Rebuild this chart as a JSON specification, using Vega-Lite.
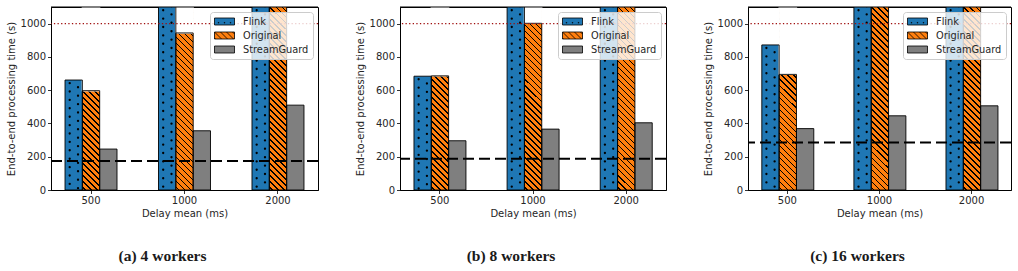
{
  "$schema": "https://vega.github.io/schema/vega-lite/v6.json",
  "padding": {"left": 5, "top": 6, "right": 3, "bottom": 4},
  "spacing": 34,
  "datasets": {
    "bars": [
      {"panel": "a", "delay": 500, "series": "Flink", "value": 661},
      {"panel": "a", "delay": 1000, "series": "Flink", "value": 1200},
      {"panel": "a", "delay": 2000, "series": "Flink", "value": 1200},
      {"panel": "a", "delay": 500, "series": "Original", "value": 597},
      {"panel": "a", "delay": 1000, "series": "Original", "value": 944},
      {"panel": "a", "delay": 2000, "series": "Original", "value": 1200},
      {"panel": "a", "delay": 500, "series": "StreamGuard", "value": 246},
      {"panel": "a", "delay": 1000, "series": "StreamGuard", "value": 356},
      {"panel": "a", "delay": 2000, "series": "StreamGuard", "value": 510},
      {"panel": "b", "delay": 500, "series": "Flink", "value": 684},
      {"panel": "b", "delay": 1000, "series": "Flink", "value": 1200},
      {"panel": "b", "delay": 2000, "series": "Flink", "value": 1200},
      {"panel": "b", "delay": 500, "series": "Original", "value": 686},
      {"panel": "b", "delay": 1000, "series": "Original", "value": 1002},
      {"panel": "b", "delay": 2000, "series": "Original", "value": 1200},
      {"panel": "b", "delay": 500, "series": "StreamGuard", "value": 296},
      {"panel": "b", "delay": 1000, "series": "StreamGuard", "value": 366},
      {"panel": "b", "delay": 2000, "series": "StreamGuard", "value": 404},
      {"panel": "c", "delay": 500, "series": "Flink", "value": 872},
      {"panel": "c", "delay": 1000, "series": "Flink", "value": 1200},
      {"panel": "c", "delay": 2000, "series": "Flink", "value": 1200},
      {"panel": "c", "delay": 500, "series": "Original", "value": 695},
      {"panel": "c", "delay": 1000, "series": "Original", "value": 1200},
      {"panel": "c", "delay": 2000, "series": "Original", "value": 1200},
      {"panel": "c", "delay": 500, "series": "StreamGuard", "value": 369},
      {"panel": "c", "delay": 1000, "series": "StreamGuard", "value": 446},
      {"panel": "c", "delay": 2000, "series": "StreamGuard", "value": 506}
    ],
    "base": [
      {"panel": "a", "baseline": 175},
      {"panel": "b", "baseline": 188},
      {"panel": "c", "baseline": 285}
    ]
  },
  "hconcat": [
    {
      "width": 267, "height": 183,
      "title": {"text": "(a) 4 workers"},
      "data": {"name": "bars"},
      "transform": [{"filter": "datum.panel === 'a'"}],
      "layer": [
        {
          "mark": {"type": "bar", "clip": true},
          "encoding": {
            "x": {"field": "delay", "type": "ordinal", "title": "Delay mean (ms)", "scale": {"paddingInner": 0.444, "paddingOuter": 0.15}},
            "xOffset": {"field": "series", "type": "nominal", "scale": {"domain": ["Flink", "Original", "StreamGuard"], "paddingInner": 0, "paddingOuter": 0}},
            "y": {"field": "value", "type": "quantitative", "title": "End-to-end processing time (s)", "scale": {"domain": [0, 1100], "nice": false}, "axis": {"values": [0, 200, 400, 600, 800, 1000], "format": "d"}},
            "color": {
              "field": "series", "type": "nominal",
              "scale": {"domain": ["Flink", "Original", "StreamGuard"], "range": ["#1f77b4", "#ff7f0e", "#7f7f7f"]},
              "legend": {
                "title": null, "orient": "top-right", "offset": 5,
                "symbolType": "M-1,-0.7H3V0.7H-1Z", "symbolSize": 100,
                "symbolStrokeColor": "black", "symbolStrokeWidth": 0.8,
                "labelFont": "DejaVu Sans", "labelFontSize": 9.8, "labelColor": "#262626", "labelOffset": 18,
                "rowPadding": 3, "padding": 4,
                "fillColor": "rgba(255,255,255,0.8)", "strokeColor": "#cccccc", "cornerRadius": 3,
                "encode": {"symbols": {"update": {
                  "stroke": {"value": "black"}, "strokeWidth": {"value": 0.8},
                  "shape": [
                    {"test": "datum.value === 'Flink'", "value": "M-1,-0.7H3V0.7H-1Z M-0.26,0.19h0.12v0.12h-0.12Z M0.94,0.19h0.12v0.12h-0.12Z M2.14,0.19h0.12v0.12h-0.12Z"},
                    {"test": "datum.value === 'Original'", "value": "M-1,-0.7H3V0.7H-1Z M-1,0.5L-0.8,0.7 M-1,-0.7L0.4,0.7 M0.2,-0.7L1.6,0.7 M1.4,-0.7L2.8,0.7 M2.6,-0.7L3,-0.3"},
                    {"value": "M-1,-0.7H3V0.7H-1Z"}
                  ]
                }}}
              }
            }
          }
        },
        {
          "transform": [{"filter": "datum.series === 'Original'"}],
          "mark": {"type": "bar", "clip": true, "fill": {
            "gradient": "linear", "x1": 0, "y1": 1, "x2": 0.1026, "y2": -0.0848,
            "stops": [
              {"offset": 0, "color": "#ff7f0e"},
              {"offset": 0.012, "color": "#ff7f0e"}, {"offset": 0.012, "color": "#000000"}, {"offset": 0.0185, "color": "#000000"}, {"offset": 0.0185, "color": "#ff7f0e"},
              {"offset": 0.042, "color": "#ff7f0e"}, {"offset": 0.042, "color": "#000000"}, {"offset": 0.0485, "color": "#000000"}, {"offset": 0.0485, "color": "#ff7f0e"},
              {"offset": 0.072, "color": "#ff7f0e"}, {"offset": 0.072, "color": "#000000"}, {"offset": 0.0785, "color": "#000000"}, {"offset": 0.0785, "color": "#ff7f0e"},
              {"offset": 0.102, "color": "#ff7f0e"}, {"offset": 0.102, "color": "#000000"}, {"offset": 0.1085, "color": "#000000"}, {"offset": 0.1085, "color": "#ff7f0e"},
              {"offset": 0.132, "color": "#ff7f0e"}, {"offset": 0.132, "color": "#000000"}, {"offset": 0.1385, "color": "#000000"}, {"offset": 0.1385, "color": "#ff7f0e"},
              {"offset": 0.162, "color": "#ff7f0e"}, {"offset": 0.162, "color": "#000000"}, {"offset": 0.1685, "color": "#000000"}, {"offset": 0.1685, "color": "#ff7f0e"},
              {"offset": 0.192, "color": "#ff7f0e"}, {"offset": 0.192, "color": "#000000"}, {"offset": 0.1985, "color": "#000000"}, {"offset": 0.1985, "color": "#ff7f0e"},
              {"offset": 0.222, "color": "#ff7f0e"}, {"offset": 0.222, "color": "#000000"}, {"offset": 0.2285, "color": "#000000"}, {"offset": 0.2285, "color": "#ff7f0e"},
              {"offset": 0.252, "color": "#ff7f0e"}, {"offset": 0.252, "color": "#000000"}, {"offset": 0.2585, "color": "#000000"}, {"offset": 0.2585, "color": "#ff7f0e"},
              {"offset": 0.282, "color": "#ff7f0e"}, {"offset": 0.282, "color": "#000000"}, {"offset": 0.2885, "color": "#000000"}, {"offset": 0.2885, "color": "#ff7f0e"},
              {"offset": 0.312, "color": "#ff7f0e"}, {"offset": 0.312, "color": "#000000"}, {"offset": 0.3185, "color": "#000000"}, {"offset": 0.3185, "color": "#ff7f0e"},
              {"offset": 0.342, "color": "#ff7f0e"}, {"offset": 0.342, "color": "#000000"}, {"offset": 0.3485, "color": "#000000"}, {"offset": 0.3485, "color": "#ff7f0e"},
              {"offset": 0.372, "color": "#ff7f0e"}, {"offset": 0.372, "color": "#000000"}, {"offset": 0.3785, "color": "#000000"}, {"offset": 0.3785, "color": "#ff7f0e"},
              {"offset": 0.402, "color": "#ff7f0e"}, {"offset": 0.402, "color": "#000000"}, {"offset": 0.4085, "color": "#000000"}, {"offset": 0.4085, "color": "#ff7f0e"},
              {"offset": 0.432, "color": "#ff7f0e"}, {"offset": 0.432, "color": "#000000"}, {"offset": 0.4385, "color": "#000000"}, {"offset": 0.4385, "color": "#ff7f0e"},
              {"offset": 0.462, "color": "#ff7f0e"}, {"offset": 0.462, "color": "#000000"}, {"offset": 0.4685, "color": "#000000"}, {"offset": 0.4685, "color": "#ff7f0e"},
              {"offset": 0.492, "color": "#ff7f0e"}, {"offset": 0.492, "color": "#000000"}, {"offset": 0.4985, "color": "#000000"}, {"offset": 0.4985, "color": "#ff7f0e"},
              {"offset": 0.522, "color": "#ff7f0e"}, {"offset": 0.522, "color": "#000000"}, {"offset": 0.5285, "color": "#000000"}, {"offset": 0.5285, "color": "#ff7f0e"},
              {"offset": 0.552, "color": "#ff7f0e"}, {"offset": 0.552, "color": "#000000"}, {"offset": 0.5585, "color": "#000000"}, {"offset": 0.5585, "color": "#ff7f0e"},
              {"offset": 0.582, "color": "#ff7f0e"}, {"offset": 0.582, "color": "#000000"}, {"offset": 0.5885, "color": "#000000"}, {"offset": 0.5885, "color": "#ff7f0e"},
              {"offset": 0.612, "color": "#ff7f0e"}, {"offset": 0.612, "color": "#000000"}, {"offset": 0.6185, "color": "#000000"}, {"offset": 0.6185, "color": "#ff7f0e"},
              {"offset": 0.642, "color": "#ff7f0e"}, {"offset": 0.642, "color": "#000000"}, {"offset": 0.6485, "color": "#000000"}, {"offset": 0.6485, "color": "#ff7f0e"},
              {"offset": 0.672, "color": "#ff7f0e"}, {"offset": 0.672, "color": "#000000"}, {"offset": 0.6785, "color": "#000000"}, {"offset": 0.6785, "color": "#ff7f0e"},
              {"offset": 0.702, "color": "#ff7f0e"}, {"offset": 0.702, "color": "#000000"}, {"offset": 0.7085, "color": "#000000"}, {"offset": 0.7085, "color": "#ff7f0e"},
              {"offset": 0.732, "color": "#ff7f0e"}, {"offset": 0.732, "color": "#000000"}, {"offset": 0.7385, "color": "#000000"}, {"offset": 0.7385, "color": "#ff7f0e"},
              {"offset": 0.762, "color": "#ff7f0e"}, {"offset": 0.762, "color": "#000000"}, {"offset": 0.7685, "color": "#000000"}, {"offset": 0.7685, "color": "#ff7f0e"},
              {"offset": 0.792, "color": "#ff7f0e"}, {"offset": 0.792, "color": "#000000"}, {"offset": 0.7985, "color": "#000000"}, {"offset": 0.7985, "color": "#ff7f0e"},
              {"offset": 0.822, "color": "#ff7f0e"}, {"offset": 0.822, "color": "#000000"}, {"offset": 0.8285, "color": "#000000"}, {"offset": 0.8285, "color": "#ff7f0e"},
              {"offset": 0.852, "color": "#ff7f0e"}, {"offset": 0.852, "color": "#000000"}, {"offset": 0.8585, "color": "#000000"}, {"offset": 0.8585, "color": "#ff7f0e"},
              {"offset": 0.882, "color": "#ff7f0e"}, {"offset": 0.882, "color": "#000000"}, {"offset": 0.8885, "color": "#000000"}, {"offset": 0.8885, "color": "#ff7f0e"},
              {"offset": 0.912, "color": "#ff7f0e"}, {"offset": 0.912, "color": "#000000"}, {"offset": 0.9185, "color": "#000000"}, {"offset": 0.9185, "color": "#ff7f0e"},
              {"offset": 0.942, "color": "#ff7f0e"}, {"offset": 0.942, "color": "#000000"}, {"offset": 0.9485, "color": "#000000"}, {"offset": 0.9485, "color": "#ff7f0e"},
              {"offset": 0.972, "color": "#ff7f0e"}, {"offset": 0.972, "color": "#000000"}, {"offset": 0.9785, "color": "#000000"}, {"offset": 0.9785, "color": "#ff7f0e"},
              {"offset": 1, "color": "#ff7f0e"}
            ]
          }},
          "encoding": {
            "x": {"field": "delay", "type": "ordinal", "title": "Delay mean (ms)"},
            "xOffset": {"field": "series", "type": "nominal", "scale": {"domain": ["Flink", "Original", "StreamGuard"]}},
            "y": {"datum": 1100, "type": "quantitative", "title": "End-to-end processing time (s)", "axis": {"values": [0, 200, 400, 600, 800, 1000], "format": "d"}}
          }
        },
        {
          "transform": [{"filter": "datum.series === 'Original'"}],
          "mark": {"type": "bar", "fill": "white", "stroke": "white", "strokeWidth": 1.4, "clip": true},
          "encoding": {
            "x": {"field": "delay", "type": "ordinal", "title": "Delay mean (ms)"},
            "xOffset": {"field": "series", "type": "nominal", "scale": {"domain": ["Flink", "Original", "StreamGuard"]}},
            "y": {"field": "value", "type": "quantitative", "title": "End-to-end processing time (s)", "axis": {"values": [0, 200, 400, 600, 800, 1000], "format": "d"}},
            "y2": {"datum": 1120}
          }
        },
        {
          "transform": [{"filter": "datum.series === 'Flink'"}],
          "mark": {"type": "rule", "color": "black", "strokeWidth": 2.3, "strokeCap": "round", "strokeDash": [0.1, 8.3], "strokeDashOffset": 5.4, "clip": true},
          "encoding": {
            "x": {"field": "delay", "type": "ordinal", "title": "Delay mean (ms)", "bandPosition": 0.09},
            "y": {"field": "value", "type": "quantitative", "title": "End-to-end processing time (s)", "axis": {"values": [0, 200, 400, 600, 800, 1000], "format": "d"}},
            "y2": {"datum": 0}
          }
        },
        {
          "transform": [{"filter": "datum.series === 'Flink'"}],
          "mark": {"type": "rule", "color": "black", "strokeWidth": 2.3, "strokeCap": "round", "strokeDash": [0.1, 8.3], "strokeDashOffset": 1.2, "clip": true},
          "encoding": {
            "x": {"field": "delay", "type": "ordinal", "title": "Delay mean (ms)", "bandPosition": 0.25},
            "y": {"field": "value", "type": "quantitative", "title": "End-to-end processing time (s)", "axis": {"values": [0, 200, 400, 600, 800, 1000], "format": "d"}},
            "y2": {"datum": 0}
          }
        },
        {
          "mark": {"type": "bar", "filled": false, "color": "black", "strokeWidth": 0.9, "clip": true},
          "encoding": {
            "x": {"field": "delay", "type": "ordinal", "title": "Delay mean (ms)"},
            "xOffset": {"field": "series", "type": "nominal", "scale": {"domain": ["Flink", "Original", "StreamGuard"]}},
            "y": {"field": "value", "type": "quantitative", "title": "End-to-end processing time (s)", "axis": {"values": [0, 200, 400, 600, 800, 1000], "format": "d"}}
          }
        },
        {
          "data": {"name": "base"},
          "transform": [{"filter": "datum.panel === 'a'"}],
          "mark": {"type": "rule", "color": "#a01010", "strokeDash": [1.3, 2.3], "strokeWidth": 1.1},
          "encoding": {"y": {"datum": 1000, "type": "quantitative", "title": "End-to-end processing time (s)", "axis": {"values": [0, 200, 400, 600, 800, 1000], "format": "d"}}}
        },
        {
          "data": {"name": "base"},
          "transform": [{"filter": "datum.panel === 'a'"}],
          "mark": {"type": "rule", "color": "black", "strokeDash": [11, 5], "strokeWidth": 2},
          "encoding": {"y": {"field": "baseline", "type": "quantitative", "title": "End-to-end processing time (s)", "axis": {"values": [0, 200, 400, 600, 800, 1000], "format": "d"}}}
        },
        {
          "data": {"name": "base"},
          "transform": [{"filter": "datum.panel === 'a'"}],
          "mark": {"type": "rule", "color": "black", "strokeWidth": 1},
          "encoding": {"y": {"datum": 1100, "type": "quantitative", "title": "End-to-end processing time (s)", "axis": {"values": [0, 200, 400, 600, 800, 1000], "format": "d"}}}
        }
      ]
    },
    {
      "width": 266, "height": 183,
      "title": {"text": "(b) 8 workers"},
      "data": {"name": "bars"},
      "transform": [{"filter": "datum.panel === 'b'"}],
      "layer": [
        {
          "mark": {"type": "bar", "clip": true},
          "encoding": {
            "x": {"field": "delay", "type": "ordinal", "title": "Delay mean (ms)", "scale": {"paddingInner": 0.444, "paddingOuter": 0.15}},
            "xOffset": {"field": "series", "type": "nominal", "scale": {"domain": ["Flink", "Original", "StreamGuard"], "paddingInner": 0, "paddingOuter": 0}},
            "y": {"field": "value", "type": "quantitative", "title": "End-to-end processing time (s)", "scale": {"domain": [0, 1100], "nice": false}, "axis": {"values": [0, 200, 400, 600, 800, 1000], "format": "d"}},
            "color": {
              "field": "series", "type": "nominal",
              "scale": {"domain": ["Flink", "Original", "StreamGuard"], "range": ["#1f77b4", "#ff7f0e", "#7f7f7f"]},
              "legend": {
                "title": null, "orient": "top-right", "offset": 5,
                "symbolType": "M-1,-0.7H3V0.7H-1Z", "symbolSize": 100,
                "symbolStrokeColor": "black", "symbolStrokeWidth": 0.8,
                "labelFont": "DejaVu Sans", "labelFontSize": 9.8, "labelColor": "#262626", "labelOffset": 18,
                "rowPadding": 3, "padding": 4,
                "fillColor": "rgba(255,255,255,0.8)", "strokeColor": "#cccccc", "cornerRadius": 3,
                "encode": {"symbols": {"update": {
                  "stroke": {"value": "black"}, "strokeWidth": {"value": 0.8},
                  "shape": [
                    {"test": "datum.value === 'Flink'", "value": "M-1,-0.7H3V0.7H-1Z M-0.26,0.19h0.12v0.12h-0.12Z M0.94,0.19h0.12v0.12h-0.12Z M2.14,0.19h0.12v0.12h-0.12Z"},
                    {"test": "datum.value === 'Original'", "value": "M-1,-0.7H3V0.7H-1Z M-1,0.5L-0.8,0.7 M-1,-0.7L0.4,0.7 M0.2,-0.7L1.6,0.7 M1.4,-0.7L2.8,0.7 M2.6,-0.7L3,-0.3"},
                    {"value": "M-1,-0.7H3V0.7H-1Z"}
                  ]
                }}}
              }
            }
          }
        },
        {
          "transform": [{"filter": "datum.series === 'Original'"}],
          "mark": {"type": "bar", "clip": true, "fill": {
            "gradient": "linear", "x1": 0, "y1": 1, "x2": 0.1026, "y2": -0.0848,
            "stops": [
              {"offset": 0, "color": "#ff7f0e"},
              {"offset": 0.012, "color": "#ff7f0e"}, {"offset": 0.012, "color": "#000000"}, {"offset": 0.0185, "color": "#000000"}, {"offset": 0.0185, "color": "#ff7f0e"},
              {"offset": 0.042, "color": "#ff7f0e"}, {"offset": 0.042, "color": "#000000"}, {"offset": 0.0485, "color": "#000000"}, {"offset": 0.0485, "color": "#ff7f0e"},
              {"offset": 0.072, "color": "#ff7f0e"}, {"offset": 0.072, "color": "#000000"}, {"offset": 0.0785, "color": "#000000"}, {"offset": 0.0785, "color": "#ff7f0e"},
              {"offset": 0.102, "color": "#ff7f0e"}, {"offset": 0.102, "color": "#000000"}, {"offset": 0.1085, "color": "#000000"}, {"offset": 0.1085, "color": "#ff7f0e"},
              {"offset": 0.132, "color": "#ff7f0e"}, {"offset": 0.132, "color": "#000000"}, {"offset": 0.1385, "color": "#000000"}, {"offset": 0.1385, "color": "#ff7f0e"},
              {"offset": 0.162, "color": "#ff7f0e"}, {"offset": 0.162, "color": "#000000"}, {"offset": 0.1685, "color": "#000000"}, {"offset": 0.1685, "color": "#ff7f0e"},
              {"offset": 0.192, "color": "#ff7f0e"}, {"offset": 0.192, "color": "#000000"}, {"offset": 0.1985, "color": "#000000"}, {"offset": 0.1985, "color": "#ff7f0e"},
              {"offset": 0.222, "color": "#ff7f0e"}, {"offset": 0.222, "color": "#000000"}, {"offset": 0.2285, "color": "#000000"}, {"offset": 0.2285, "color": "#ff7f0e"},
              {"offset": 0.252, "color": "#ff7f0e"}, {"offset": 0.252, "color": "#000000"}, {"offset": 0.2585, "color": "#000000"}, {"offset": 0.2585, "color": "#ff7f0e"},
              {"offset": 0.282, "color": "#ff7f0e"}, {"offset": 0.282, "color": "#000000"}, {"offset": 0.2885, "color": "#000000"}, {"offset": 0.2885, "color": "#ff7f0e"},
              {"offset": 0.312, "color": "#ff7f0e"}, {"offset": 0.312, "color": "#000000"}, {"offset": 0.3185, "color": "#000000"}, {"offset": 0.3185, "color": "#ff7f0e"},
              {"offset": 0.342, "color": "#ff7f0e"}, {"offset": 0.342, "color": "#000000"}, {"offset": 0.3485, "color": "#000000"}, {"offset": 0.3485, "color": "#ff7f0e"},
              {"offset": 0.372, "color": "#ff7f0e"}, {"offset": 0.372, "color": "#000000"}, {"offset": 0.3785, "color": "#000000"}, {"offset": 0.3785, "color": "#ff7f0e"},
              {"offset": 0.402, "color": "#ff7f0e"}, {"offset": 0.402, "color": "#000000"}, {"offset": 0.4085, "color": "#000000"}, {"offset": 0.4085, "color": "#ff7f0e"},
              {"offset": 0.432, "color": "#ff7f0e"}, {"offset": 0.432, "color": "#000000"}, {"offset": 0.4385, "color": "#000000"}, {"offset": 0.4385, "color": "#ff7f0e"},
              {"offset": 0.462, "color": "#ff7f0e"}, {"offset": 0.462, "color": "#000000"}, {"offset": 0.4685, "color": "#000000"}, {"offset": 0.4685, "color": "#ff7f0e"},
              {"offset": 0.492, "color": "#ff7f0e"}, {"offset": 0.492, "color": "#000000"}, {"offset": 0.4985, "color": "#000000"}, {"offset": 0.4985, "color": "#ff7f0e"},
              {"offset": 0.522, "color": "#ff7f0e"}, {"offset": 0.522, "color": "#000000"}, {"offset": 0.5285, "color": "#000000"}, {"offset": 0.5285, "color": "#ff7f0e"},
              {"offset": 0.552, "color": "#ff7f0e"}, {"offset": 0.552, "color": "#000000"}, {"offset": 0.5585, "color": "#000000"}, {"offset": 0.5585, "color": "#ff7f0e"},
              {"offset": 0.582, "color": "#ff7f0e"}, {"offset": 0.582, "color": "#000000"}, {"offset": 0.5885, "color": "#000000"}, {"offset": 0.5885, "color": "#ff7f0e"},
              {"offset": 0.612, "color": "#ff7f0e"}, {"offset": 0.612, "color": "#000000"}, {"offset": 0.6185, "color": "#000000"}, {"offset": 0.6185, "color": "#ff7f0e"},
              {"offset": 0.642, "color": "#ff7f0e"}, {"offset": 0.642, "color": "#000000"}, {"offset": 0.6485, "color": "#000000"}, {"offset": 0.6485, "color": "#ff7f0e"},
              {"offset": 0.672, "color": "#ff7f0e"}, {"offset": 0.672, "color": "#000000"}, {"offset": 0.6785, "color": "#000000"}, {"offset": 0.6785, "color": "#ff7f0e"},
              {"offset": 0.702, "color": "#ff7f0e"}, {"offset": 0.702, "color": "#000000"}, {"offset": 0.7085, "color": "#000000"}, {"offset": 0.7085, "color": "#ff7f0e"},
              {"offset": 0.732, "color": "#ff7f0e"}, {"offset": 0.732, "color": "#000000"}, {"offset": 0.7385, "color": "#000000"}, {"offset": 0.7385, "color": "#ff7f0e"},
              {"offset": 0.762, "color": "#ff7f0e"}, {"offset": 0.762, "color": "#000000"}, {"offset": 0.7685, "color": "#000000"}, {"offset": 0.7685, "color": "#ff7f0e"},
              {"offset": 0.792, "color": "#ff7f0e"}, {"offset": 0.792, "color": "#000000"}, {"offset": 0.7985, "color": "#000000"}, {"offset": 0.7985, "color": "#ff7f0e"},
              {"offset": 0.822, "color": "#ff7f0e"}, {"offset": 0.822, "color": "#000000"}, {"offset": 0.8285, "color": "#000000"}, {"offset": 0.8285, "color": "#ff7f0e"},
              {"offset": 0.852, "color": "#ff7f0e"}, {"offset": 0.852, "color": "#000000"}, {"offset": 0.8585, "color": "#000000"}, {"offset": 0.8585, "color": "#ff7f0e"},
              {"offset": 0.882, "color": "#ff7f0e"}, {"offset": 0.882, "color": "#000000"}, {"offset": 0.8885, "color": "#000000"}, {"offset": 0.8885, "color": "#ff7f0e"},
              {"offset": 0.912, "color": "#ff7f0e"}, {"offset": 0.912, "color": "#000000"}, {"offset": 0.9185, "color": "#000000"}, {"offset": 0.9185, "color": "#ff7f0e"},
              {"offset": 0.942, "color": "#ff7f0e"}, {"offset": 0.942, "color": "#000000"}, {"offset": 0.9485, "color": "#000000"}, {"offset": 0.9485, "color": "#ff7f0e"},
              {"offset": 0.972, "color": "#ff7f0e"}, {"offset": 0.972, "color": "#000000"}, {"offset": 0.9785, "color": "#000000"}, {"offset": 0.9785, "color": "#ff7f0e"},
              {"offset": 1, "color": "#ff7f0e"}
            ]
          }},
          "encoding": {
            "x": {"field": "delay", "type": "ordinal", "title": "Delay mean (ms)"},
            "xOffset": {"field": "series", "type": "nominal", "scale": {"domain": ["Flink", "Original", "StreamGuard"]}},
            "y": {"datum": 1100, "type": "quantitative", "title": "End-to-end processing time (s)", "axis": {"values": [0, 200, 400, 600, 800, 1000], "format": "d"}}
          }
        },
        {
          "transform": [{"filter": "datum.series === 'Original'"}],
          "mark": {"type": "bar", "fill": "white", "stroke": "white", "strokeWidth": 1.4, "clip": true},
          "encoding": {
            "x": {"field": "delay", "type": "ordinal", "title": "Delay mean (ms)"},
            "xOffset": {"field": "series", "type": "nominal", "scale": {"domain": ["Flink", "Original", "StreamGuard"]}},
            "y": {"field": "value", "type": "quantitative", "title": "End-to-end processing time (s)", "axis": {"values": [0, 200, 400, 600, 800, 1000], "format": "d"}},
            "y2": {"datum": 1120}
          }
        },
        {
          "transform": [{"filter": "datum.series === 'Flink'"}],
          "mark": {"type": "rule", "color": "black", "strokeWidth": 2.3, "strokeCap": "round", "strokeDash": [0.1, 8.3], "strokeDashOffset": 5.4, "clip": true},
          "encoding": {
            "x": {"field": "delay", "type": "ordinal", "title": "Delay mean (ms)", "bandPosition": 0.09},
            "y": {"field": "value", "type": "quantitative", "title": "End-to-end processing time (s)", "axis": {"values": [0, 200, 400, 600, 800, 1000], "format": "d"}},
            "y2": {"datum": 0}
          }
        },
        {
          "transform": [{"filter": "datum.series === 'Flink'"}],
          "mark": {"type": "rule", "color": "black", "strokeWidth": 2.3, "strokeCap": "round", "strokeDash": [0.1, 8.3], "strokeDashOffset": 1.2, "clip": true},
          "encoding": {
            "x": {"field": "delay", "type": "ordinal", "title": "Delay mean (ms)", "bandPosition": 0.25},
            "y": {"field": "value", "type": "quantitative", "title": "End-to-end processing time (s)", "axis": {"values": [0, 200, 400, 600, 800, 1000], "format": "d"}},
            "y2": {"datum": 0}
          }
        },
        {
          "mark": {"type": "bar", "filled": false, "color": "black", "strokeWidth": 0.9, "clip": true},
          "encoding": {
            "x": {"field": "delay", "type": "ordinal", "title": "Delay mean (ms)"},
            "xOffset": {"field": "series", "type": "nominal", "scale": {"domain": ["Flink", "Original", "StreamGuard"]}},
            "y": {"field": "value", "type": "quantitative", "title": "End-to-end processing time (s)", "axis": {"values": [0, 200, 400, 600, 800, 1000], "format": "d"}}
          }
        },
        {
          "data": {"name": "base"},
          "transform": [{"filter": "datum.panel === 'b'"}],
          "mark": {"type": "rule", "color": "#a01010", "strokeDash": [1.3, 2.3], "strokeWidth": 1.1},
          "encoding": {"y": {"datum": 1000, "type": "quantitative", "title": "End-to-end processing time (s)", "axis": {"values": [0, 200, 400, 600, 800, 1000], "format": "d"}}}
        },
        {
          "data": {"name": "base"},
          "transform": [{"filter": "datum.panel === 'b'"}],
          "mark": {"type": "rule", "color": "black", "strokeDash": [11, 5], "strokeWidth": 2},
          "encoding": {"y": {"field": "baseline", "type": "quantitative", "title": "End-to-end processing time (s)", "axis": {"values": [0, 200, 400, 600, 800, 1000], "format": "d"}}}
        },
        {
          "data": {"name": "base"},
          "transform": [{"filter": "datum.panel === 'b'"}],
          "mark": {"type": "rule", "color": "black", "strokeWidth": 1},
          "encoding": {"y": {"datum": 1100, "type": "quantitative", "title": "End-to-end processing time (s)", "axis": {"values": [0, 200, 400, 600, 800, 1000], "format": "d"}}}
        }
      ]
    },
    {
      "width": 263, "height": 183,
      "title": {"text": "(c) 16 workers"},
      "data": {"name": "bars"},
      "transform": [{"filter": "datum.panel === 'c'"}],
      "layer": [
        {
          "mark": {"type": "bar", "clip": true},
          "encoding": {
            "x": {"field": "delay", "type": "ordinal", "title": "Delay mean (ms)", "scale": {"paddingInner": 0.444, "paddingOuter": 0.15}},
            "xOffset": {"field": "series", "type": "nominal", "scale": {"domain": ["Flink", "Original", "StreamGuard"], "paddingInner": 0, "paddingOuter": 0}},
            "y": {"field": "value", "type": "quantitative", "title": "End-to-end processing time (s)", "scale": {"domain": [0, 1100], "nice": false}, "axis": {"values": [0, 200, 400, 600, 800, 1000], "format": "d"}},
            "color": {
              "field": "series", "type": "nominal",
              "scale": {"domain": ["Flink", "Original", "StreamGuard"], "range": ["#1f77b4", "#ff7f0e", "#7f7f7f"]},
              "legend": {
                "title": null, "orient": "top-right", "offset": 5,
                "symbolType": "M-1,-0.7H3V0.7H-1Z", "symbolSize": 100,
                "symbolStrokeColor": "black", "symbolStrokeWidth": 0.8,
                "labelFont": "DejaVu Sans", "labelFontSize": 9.8, "labelColor": "#262626", "labelOffset": 18,
                "rowPadding": 3, "padding": 4,
                "fillColor": "rgba(255,255,255,0.8)", "strokeColor": "#cccccc", "cornerRadius": 3,
                "encode": {"symbols": {"update": {
                  "stroke": {"value": "black"}, "strokeWidth": {"value": 0.8},
                  "shape": [
                    {"test": "datum.value === 'Flink'", "value": "M-1,-0.7H3V0.7H-1Z M-0.26,0.19h0.12v0.12h-0.12Z M0.94,0.19h0.12v0.12h-0.12Z M2.14,0.19h0.12v0.12h-0.12Z"},
                    {"test": "datum.value === 'Original'", "value": "M-1,-0.7H3V0.7H-1Z M-1,0.5L-0.8,0.7 M-1,-0.7L0.4,0.7 M0.2,-0.7L1.6,0.7 M1.4,-0.7L2.8,0.7 M2.6,-0.7L3,-0.3"},
                    {"value": "M-1,-0.7H3V0.7H-1Z"}
                  ]
                }}}
              }
            }
          }
        },
        {
          "transform": [{"filter": "datum.series === 'Original'"}],
          "mark": {"type": "bar", "clip": true, "fill": {
            "gradient": "linear", "x1": 0, "y1": 1, "x2": 0.1026, "y2": -0.0848,
            "stops": [
              {"offset": 0, "color": "#ff7f0e"},
              {"offset": 0.012, "color": "#ff7f0e"}, {"offset": 0.012, "color": "#000000"}, {"offset": 0.0185, "color": "#000000"}, {"offset": 0.0185, "color": "#ff7f0e"},
              {"offset": 0.042, "color": "#ff7f0e"}, {"offset": 0.042, "color": "#000000"}, {"offset": 0.0485, "color": "#000000"}, {"offset": 0.0485, "color": "#ff7f0e"},
              {"offset": 0.072, "color": "#ff7f0e"}, {"offset": 0.072, "color": "#000000"}, {"offset": 0.0785, "color": "#000000"}, {"offset": 0.0785, "color": "#ff7f0e"},
              {"offset": 0.102, "color": "#ff7f0e"}, {"offset": 0.102, "color": "#000000"}, {"offset": 0.1085, "color": "#000000"}, {"offset": 0.1085, "color": "#ff7f0e"},
              {"offset": 0.132, "color": "#ff7f0e"}, {"offset": 0.132, "color": "#000000"}, {"offset": 0.1385, "color": "#000000"}, {"offset": 0.1385, "color": "#ff7f0e"},
              {"offset": 0.162, "color": "#ff7f0e"}, {"offset": 0.162, "color": "#000000"}, {"offset": 0.1685, "color": "#000000"}, {"offset": 0.1685, "color": "#ff7f0e"},
              {"offset": 0.192, "color": "#ff7f0e"}, {"offset": 0.192, "color": "#000000"}, {"offset": 0.1985, "color": "#000000"}, {"offset": 0.1985, "color": "#ff7f0e"},
              {"offset": 0.222, "color": "#ff7f0e"}, {"offset": 0.222, "color": "#000000"}, {"offset": 0.2285, "color": "#000000"}, {"offset": 0.2285, "color": "#ff7f0e"},
              {"offset": 0.252, "color": "#ff7f0e"}, {"offset": 0.252, "color": "#000000"}, {"offset": 0.2585, "color": "#000000"}, {"offset": 0.2585, "color": "#ff7f0e"},
              {"offset": 0.282, "color": "#ff7f0e"}, {"offset": 0.282, "color": "#000000"}, {"offset": 0.2885, "color": "#000000"}, {"offset": 0.2885, "color": "#ff7f0e"},
              {"offset": 0.312, "color": "#ff7f0e"}, {"offset": 0.312, "color": "#000000"}, {"offset": 0.3185, "color": "#000000"}, {"offset": 0.3185, "color": "#ff7f0e"},
              {"offset": 0.342, "color": "#ff7f0e"}, {"offset": 0.342, "color": "#000000"}, {"offset": 0.3485, "color": "#000000"}, {"offset": 0.3485, "color": "#ff7f0e"},
              {"offset": 0.372, "color": "#ff7f0e"}, {"offset": 0.372, "color": "#000000"}, {"offset": 0.3785, "color": "#000000"}, {"offset": 0.3785, "color": "#ff7f0e"},
              {"offset": 0.402, "color": "#ff7f0e"}, {"offset": 0.402, "color": "#000000"}, {"offset": 0.4085, "color": "#000000"}, {"offset": 0.4085, "color": "#ff7f0e"},
              {"offset": 0.432, "color": "#ff7f0e"}, {"offset": 0.432, "color": "#000000"}, {"offset": 0.4385, "color": "#000000"}, {"offset": 0.4385, "color": "#ff7f0e"},
              {"offset": 0.462, "color": "#ff7f0e"}, {"offset": 0.462, "color": "#000000"}, {"offset": 0.4685, "color": "#000000"}, {"offset": 0.4685, "color": "#ff7f0e"},
              {"offset": 0.492, "color": "#ff7f0e"}, {"offset": 0.492, "color": "#000000"}, {"offset": 0.4985, "color": "#000000"}, {"offset": 0.4985, "color": "#ff7f0e"},
              {"offset": 0.522, "color": "#ff7f0e"}, {"offset": 0.522, "color": "#000000"}, {"offset": 0.5285, "color": "#000000"}, {"offset": 0.5285, "color": "#ff7f0e"},
              {"offset": 0.552, "color": "#ff7f0e"}, {"offset": 0.552, "color": "#000000"}, {"offset": 0.5585, "color": "#000000"}, {"offset": 0.5585, "color": "#ff7f0e"},
              {"offset": 0.582, "color": "#ff7f0e"}, {"offset": 0.582, "color": "#000000"}, {"offset": 0.5885, "color": "#000000"}, {"offset": 0.5885, "color": "#ff7f0e"},
              {"offset": 0.612, "color": "#ff7f0e"}, {"offset": 0.612, "color": "#000000"}, {"offset": 0.6185, "color": "#000000"}, {"offset": 0.6185, "color": "#ff7f0e"},
              {"offset": 0.642, "color": "#ff7f0e"}, {"offset": 0.642, "color": "#000000"}, {"offset": 0.6485, "color": "#000000"}, {"offset": 0.6485, "color": "#ff7f0e"},
              {"offset": 0.672, "color": "#ff7f0e"}, {"offset": 0.672, "color": "#000000"}, {"offset": 0.6785, "color": "#000000"}, {"offset": 0.6785, "color": "#ff7f0e"},
              {"offset": 0.702, "color": "#ff7f0e"}, {"offset": 0.702, "color": "#000000"}, {"offset": 0.7085, "color": "#000000"}, {"offset": 0.7085, "color": "#ff7f0e"},
              {"offset": 0.732, "color": "#ff7f0e"}, {"offset": 0.732, "color": "#000000"}, {"offset": 0.7385, "color": "#000000"}, {"offset": 0.7385, "color": "#ff7f0e"},
              {"offset": 0.762, "color": "#ff7f0e"}, {"offset": 0.762, "color": "#000000"}, {"offset": 0.7685, "color": "#000000"}, {"offset": 0.7685, "color": "#ff7f0e"},
              {"offset": 0.792, "color": "#ff7f0e"}, {"offset": 0.792, "color": "#000000"}, {"offset": 0.7985, "color": "#000000"}, {"offset": 0.7985, "color": "#ff7f0e"},
              {"offset": 0.822, "color": "#ff7f0e"}, {"offset": 0.822, "color": "#000000"}, {"offset": 0.8285, "color": "#000000"}, {"offset": 0.8285, "color": "#ff7f0e"},
              {"offset": 0.852, "color": "#ff7f0e"}, {"offset": 0.852, "color": "#000000"}, {"offset": 0.8585, "color": "#000000"}, {"offset": 0.8585, "color": "#ff7f0e"},
              {"offset": 0.882, "color": "#ff7f0e"}, {"offset": 0.882, "color": "#000000"}, {"offset": 0.8885, "color": "#000000"}, {"offset": 0.8885, "color": "#ff7f0e"},
              {"offset": 0.912, "color": "#ff7f0e"}, {"offset": 0.912, "color": "#000000"}, {"offset": 0.9185, "color": "#000000"}, {"offset": 0.9185, "color": "#ff7f0e"},
              {"offset": 0.942, "color": "#ff7f0e"}, {"offset": 0.942, "color": "#000000"}, {"offset": 0.9485, "color": "#000000"}, {"offset": 0.9485, "color": "#ff7f0e"},
              {"offset": 0.972, "color": "#ff7f0e"}, {"offset": 0.972, "color": "#000000"}, {"offset": 0.9785, "color": "#000000"}, {"offset": 0.9785, "color": "#ff7f0e"},
              {"offset": 1, "color": "#ff7f0e"}
            ]
          }},
          "encoding": {
            "x": {"field": "delay", "type": "ordinal", "title": "Delay mean (ms)"},
            "xOffset": {"field": "series", "type": "nominal", "scale": {"domain": ["Flink", "Original", "StreamGuard"]}},
            "y": {"datum": 1100, "type": "quantitative", "title": "End-to-end processing time (s)", "axis": {"values": [0, 200, 400, 600, 800, 1000], "format": "d"}}
          }
        },
        {
          "transform": [{"filter": "datum.series === 'Original'"}],
          "mark": {"type": "bar", "fill": "white", "stroke": "white", "strokeWidth": 1.4, "clip": true},
          "encoding": {
            "x": {"field": "delay", "type": "ordinal", "title": "Delay mean (ms)"},
            "xOffset": {"field": "series", "type": "nominal", "scale": {"domain": ["Flink", "Original", "StreamGuard"]}},
            "y": {"field": "value", "type": "quantitative", "title": "End-to-end processing time (s)", "axis": {"values": [0, 200, 400, 600, 800, 1000], "format": "d"}},
            "y2": {"datum": 1120}
          }
        },
        {
          "transform": [{"filter": "datum.series === 'Flink'"}],
          "mark": {"type": "rule", "color": "black", "strokeWidth": 2.3, "strokeCap": "round", "strokeDash": [0.1, 8.3], "strokeDashOffset": 5.4, "clip": true},
          "encoding": {
            "x": {"field": "delay", "type": "ordinal", "title": "Delay mean (ms)", "bandPosition": 0.09},
            "y": {"field": "value", "type": "quantitative", "title": "End-to-end processing time (s)", "axis": {"values": [0, 200, 400, 600, 800, 1000], "format": "d"}},
            "y2": {"datum": 0}
          }
        },
        {
          "transform": [{"filter": "datum.series === 'Flink'"}],
          "mark": {"type": "rule", "color": "black", "strokeWidth": 2.3, "strokeCap": "round", "strokeDash": [0.1, 8.3], "strokeDashOffset": 1.2, "clip": true},
          "encoding": {
            "x": {"field": "delay", "type": "ordinal", "title": "Delay mean (ms)", "bandPosition": 0.25},
            "y": {"field": "value", "type": "quantitative", "title": "End-to-end processing time (s)", "axis": {"values": [0, 200, 400, 600, 800, 1000], "format": "d"}},
            "y2": {"datum": 0}
          }
        },
        {
          "mark": {"type": "bar", "filled": false, "color": "black", "strokeWidth": 0.9, "clip": true},
          "encoding": {
            "x": {"field": "delay", "type": "ordinal", "title": "Delay mean (ms)"},
            "xOffset": {"field": "series", "type": "nominal", "scale": {"domain": ["Flink", "Original", "StreamGuard"]}},
            "y": {"field": "value", "type": "quantitative", "title": "End-to-end processing time (s)", "axis": {"values": [0, 200, 400, 600, 800, 1000], "format": "d"}}
          }
        },
        {
          "data": {"name": "base"},
          "transform": [{"filter": "datum.panel === 'c'"}],
          "mark": {"type": "rule", "color": "#a01010", "strokeDash": [1.3, 2.3], "strokeWidth": 1.1},
          "encoding": {"y": {"datum": 1000, "type": "quantitative", "title": "End-to-end processing time (s)", "axis": {"values": [0, 200, 400, 600, 800, 1000], "format": "d"}}}
        },
        {
          "data": {"name": "base"},
          "transform": [{"filter": "datum.panel === 'c'"}],
          "mark": {"type": "rule", "color": "black", "strokeDash": [11, 5], "strokeWidth": 2},
          "encoding": {"y": {"field": "baseline", "type": "quantitative", "title": "End-to-end processing time (s)", "axis": {"values": [0, 200, 400, 600, 800, 1000], "format": "d"}}}
        },
        {
          "data": {"name": "base"},
          "transform": [{"filter": "datum.panel === 'c'"}],
          "mark": {"type": "rule", "color": "black", "strokeWidth": 1},
          "encoding": {"y": {"datum": 1100, "type": "quantitative", "title": "End-to-end processing time (s)", "axis": {"values": [0, 200, 400, 600, 800, 1000], "format": "d"}}}
        }
      ]
    }
  ],
  "resolve": {"legend": {"color": "independent"}},
  "config": {
    "font": "DejaVu Sans",
    "view": {"stroke": "black", "strokeWidth": 1},
    "axis": {
      "labelFont": "DejaVu Sans", "labelFontSize": 10, "labelColor": "#262626",
      "titleFont": "DejaVu Sans", "titleFontSize": 10, "titleFontWeight": "normal", "titleColor": "#262626",
      "tickColor": "black", "tickSize": 3.5, "tickWidth": 0.8,
      "domainColor": "black", "domainWidth": 1,
      "labelPadding": 2, "titlePadding": 4, "grid": false, "labelOverlap": false
    },
    "axisX": {"labelAngle": 0, "titlePadding": 3},
    "title": {
      "orient": "bottom", "anchor": "middle", "frame": "bounds",
      "font": "Liberation Serif", "fontSize": 15.5, "fontWeight": "bold", "color": "#1a1a1a", "offset": 30
    }
  }
}
